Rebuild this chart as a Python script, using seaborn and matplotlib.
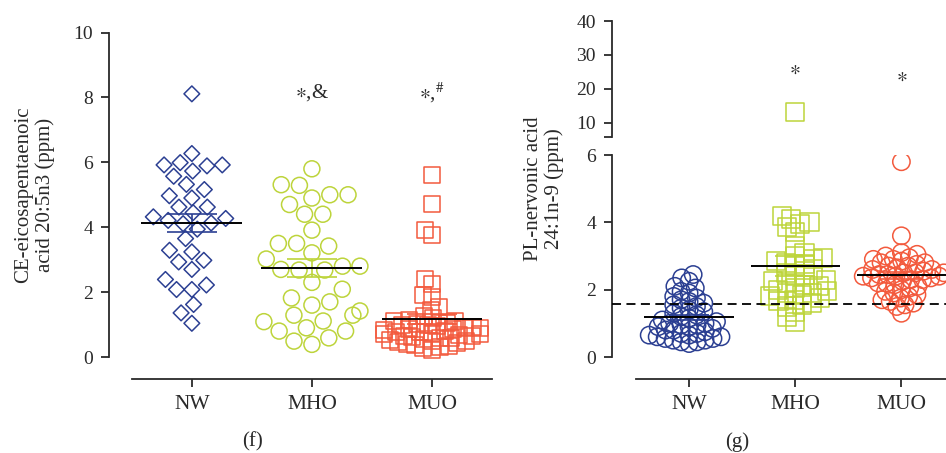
import numpy as np
import pandas as pd
import seaborn as sns
import matplotlib
matplotlib.use("Agg")
import matplotlib.pyplot as plt

# groups and colours
groups = ["NW", "MHO", "MUO"]
colors = {"NW": "#2B3F92", "MHO": "#BDD43B", "MUO": "#F35A3D"}

# panel (f): CE-eicosapentaenoic acid 20:5n3 (ppm)
f_nw = [8.11, 6.27, 5.99, 5.73, 5.89, 5.92, 5.92, 5.57, 5.32, 5.16, 4.97, 4.90,
        4.62, 4.62, 4.32, 4.45, 4.21, 4.11, 3.94, 4.27, 4.13, 3.65, 3.24, 3.29,
        2.70, 2.93, 2.98, 2.08, 2.08, 2.22, 2.39, 1.62, 1.36, 1.04]
f_mho = [5.80, 5.31, 5.29, 5.00, 5.00, 4.90, 4.70, 4.40, 4.40, 3.91, 3.50, 3.42,
         3.50, 3.21, 3.02, 2.80, 2.70, 2.68, 2.80, 2.68, 2.30, 2.09, 1.82, 1.70,
         1.60, 1.42, 1.29, 1.29, 1.09, 1.11, 0.80, 0.80, 0.90, 0.59, 0.49, 0.39]
f_muo = [5.60, 4.73, 3.90, 3.75, 2.40, 2.25, 1.90, 1.85, 1.55, 1.45,
         1.25, 1.20, 1.15, 1.12, 1.10, 1.05, 1.02, 1.00, 0.98, 0.95, 0.93, 0.90,
         0.88, 0.86, 0.85, 0.83, 0.80, 0.78, 0.76, 0.75, 0.72, 0.70, 0.68, 0.66,
         0.65, 0.62, 0.60, 0.58, 0.55, 0.53, 0.50, 0.48, 0.45, 0.42, 0.40, 0.38,
         0.35, 0.30, 0.28, 0.22]
f_marks = ["$\\ast$,&", "$\\ast$,$^{\\#}$"]

# panel (g): PL-nervonic acid 24:1n-9 (ppm)
g_nw = [2.45, 2.35, 2.25, 2.10, 2.05, 1.95, 1.90, 1.80, 1.75, 1.70, 1.65, 1.60,
        1.55, 1.50, 1.45, 1.40, 1.35, 1.30, 1.25, 1.20, 1.15, 1.10, 1.05, 1.00,
        0.95, 0.95, 0.90, 0.85, 0.80, 0.80, 0.75, 0.70, 0.70, 0.65, 0.60, 0.60,
        0.55, 0.50, 0.50, 0.45, 0.45, 0.40, 1.00, 0.90, 0.65, 0.55]
g_mho = [13.2, 4.20, 4.10, 4.00, 3.95, 3.85, 3.70, 3.30, 3.10, 3.00, 2.95, 2.90,
         2.85, 2.80, 2.75, 2.70, 2.60, 2.50, 2.45, 2.40, 2.30, 2.25, 2.20, 2.15,
         2.10, 2.05, 2.00, 1.95, 1.90, 1.90, 1.85, 1.80, 1.75, 1.70, 1.65, 1.60,
         1.55, 1.50, 1.35, 1.20, 1.05]
g_muo = [5.80, 3.60, 3.10, 3.05, 3.00, 2.95, 2.90, 2.90, 2.85, 2.80, 2.80, 2.75,
         2.70, 2.70, 2.65, 2.60, 2.60, 2.55, 2.50, 2.50, 2.50, 2.45, 2.45, 2.40,
         2.40, 2.40, 2.35, 2.35, 2.30, 2.30, 2.25, 2.20, 2.20, 2.15, 2.10, 2.05,
         2.00, 1.95, 1.90, 1.85, 1.80, 1.75, 1.70, 1.65, 1.60, 1.55, 1.50, 1.30]
g_ref = 1.58
g_marks = ["", "$\\ast$", "$\\ast$"]

sns.set_theme(style="ticks")
plt.rcParams["font.family"] = ["Liberation Serif", "DejaVu Serif"]
plt.rcParams["mathtext.fontset"] = "stix"

ink = "#2a2a2a"
W, H = 946, 453
fig = plt.figure(figsize=(W / 100, H / 100), dpi=100)


def rect(x0, y0, x1, y1):
    return [x0 / W, 1 - y1 / H, (x1 - x0) / W, (y1 - y0) / H]


ax_f = fig.add_axes(rect(109, 32.5, 492, 379))
ax_g = fig.add_axes(rect(612, 155, 946, 379))
ax_gt = fig.add_axes(rect(612, 21, 946, 137))

lims = {ax_f: ((-0.69, 2.5), (-0.677, 10)),
        ax_g: ((-0.726, 2.42), (-0.653, 6)),
        ax_gt: ((-0.726, 2.42), (5.88, 40))}


def swarm(ax, vals, grp, marker, place, size, lw=1.1):
    lo, hi = lims[ax][1]
    vals = [v for v in vals if lo < v < hi]
    if not vals:
        return
    df = pd.DataFrame({"group": grp, "value": vals})
    n0 = len(ax.collections)
    sns.swarmplot(data=df, x="group", y="value", order=groups, ax=ax,
                  marker=marker, size=place, color=colors[grp], warn_thresh=1)
    ax.set_xlim(lims[ax][0])
    ax.set_ylim(lims[ax][1])
    fig.canvas.draw()
    for coll in ax.collections[n0:]:
        coll.__dict__.pop("draw", None)
        coll.set_sizes([size ** 2])
        coll.set_facecolor("none")
        coll.set_edgecolor(colors[grp])
        coll.set_linewidth(lw)
        coll.set_zorder(3)


def mean_sem(ax, vals, grp, half, cap=0.21):
    i = groups.index(grp)
    v = np.asarray(vals)
    m = v.mean()
    se = v.std(ddof=1) / np.sqrt(len(v))
    ax.hlines([m - se, m + se], i - cap, i + cap, color=colors[grp], lw=1.2, zorder=4)
    ax.vlines(i, m - se, m + se, color=colors[grp], lw=1.2, zorder=4)
    ax.hlines(m, i - half, i + half, color="black", lw=1.4, zorder=5)


# panel f
swarm(ax_f, f_nw, "NW", "D", 10.5, 8.0)
swarm(ax_f, f_mho, "MHO", "o", 12.5, 11.5)
swarm(ax_f, f_muo, "MUO", "s", 6.0, 11.5)
for vals, grp in [(f_nw, "NW"), (f_mho, "MHO"), (f_muo, "MUO")]:
    mean_sem(ax_f, vals, grp, 0.42)
for i, t in enumerate(f_marks, start=1):
    ax_f.text(i, 8.15, t, ha="center", va="center", fontsize=15, color=ink)

# panel g (broken axis)
for ax in (ax_g, ax_gt):
    swarm(ax, g_nw, "NW", "o", 5.6, 12.5)
    swarm(ax, g_mho, "MHO", "s", 6.8, 13.0)
    swarm(ax, g_muo, "MUO", "o", 5.8, 12.5)
for vals, grp in [(g_nw, "NW"), (g_mho, "MHO"), (g_muo, "MUO")]:
    mean_sem(ax_g, vals, grp, 0.42, cap=0.19)
ax_g.axhline(g_ref, color="black", lw=1.3, ls=(0, (5, 3)), zorder=6)
for i, t in enumerate(g_marks):
    if t:
        ax_gt.text(i, 25.5 - 2 * (i - 1), t, ha="center", va="center",
                   fontsize=15, color=ink)

# axes styling
for ax in (ax_f, ax_g, ax_gt):
    ax.set_xlim(lims[ax][0])
    ax.set_ylim(lims[ax][1])
    ax.set_xlabel("")
    ax.set_ylabel("")
    for s in ("top", "right"):
        ax.spines[s].set_visible(False)
    for s in ("left", "bottom"):
        ax.spines[s].set_color(ink)
        ax.spines[s].set_linewidth(1.3)
    ax.tick_params(axis="both", colors=ink, width=1.3, length=5.5, pad=6)
    ax.tick_params(axis="y", labelsize=14)
    ax.tick_params(axis="x", labelsize=15.5)
    ax.patch.set_alpha(0)

ax_f.set_yticks([0, 2, 4, 6, 8, 10])
ax_f.spines["left"].set_bounds(0, 10)
ax_f.spines["bottom"].set_bounds(-0.5, 2.5)

ax_g.set_yticks([0, 2, 4, 6])
ax_g.spines["left"].set_bounds(0, 6)
ax_g.spines["bottom"].set_bounds(-0.5, 2.42)

ax_gt.set_yticks([5.88, 10, 20, 30, 40])
ax_gt.set_yticklabels(["", "10", "20", "30", "40"])
ax_gt.spines["left"].set_bounds(5.88, 40)
ax_gt.spines["bottom"].set_visible(False)
ax_gt.set_xticks([])

fig.text(35 / W, 1 - 195 / H, "CE-eicosapentaenoic\nacid 20:5n3 (ppm)", rotation=90,
         ha="center", va="center", multialignment="center", fontsize=15, color=ink,
         linespacing=1.15)
fig.text(544 / W, 1 - 189 / H, "PL-nervonic acid\n24:1n-9 (ppm)", rotation=90,
         ha="center", va="center", multialignment="center", fontsize=15, color=ink,
         linespacing=1.15)
fig.text(252 / W, 1 - 442 / H, "(f)", ha="center", va="center", fontsize=15, color=ink)
fig.text(737 / W, 1 - 442 / H, "(g)", ha="center", va="center", fontsize=15, color=ink)

fig.savefig("out.png", dpi=100)
